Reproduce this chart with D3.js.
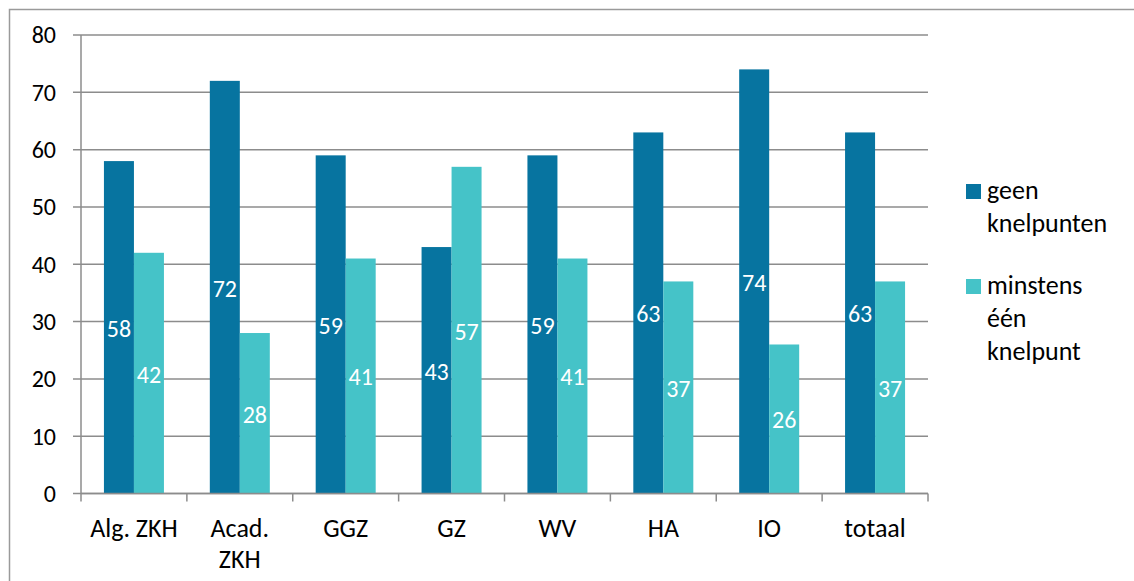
<!DOCTYPE html>
<html><head><meta charset="utf-8">
<script src="https://cdn.jsdelivr.net/npm/d3@7"></script>
<style>
body{margin:0;background:#fff;}
svg{display:block;font-family:Carlito,Lato,sans-serif;}
</style></head>
<body><svg id="c" width="1134" height="581"></svg>
<script>
const categories = [["Alg. ZKH"],["Acad.","ZKH"],["GGZ"],["GZ"],["WV"],["HA"],["IO"],["totaal"]];
const seriesNames = [["geen","knelpunten"],["minstens","één","knelpunt"]];
const geenKnelpunten = [58,72,59,43,59,63,74,63];
const minstensEen = [42,28,41,57,41,37,26,37];
const yTicks = [0,10,20,30,40,50,60,70,80];
const colors = ["#0774A0","#45C3C8"];

const svg = d3.select("#c");
const fsNum = 24, fsText = 26;
const L = 81, R = 928, T = 35, B = 493.5;

// outer border
svg.append("path").attr("d","M9.5,590V9.5H1140").attr("fill","none").attr("stroke","#9a9a9a").attr("stroke-width",1.5);

const x = d3.scaleBand().domain(d3.range(categories.length)).range([L,R]).paddingInner(0).paddingOuter(0);
const y = d3.scaleLinear().domain([0,80]).range([B,T]);

// gridlines
svg.append("g").selectAll("line").data(yTicks).join("line")
  .attr("x1",L-8).attr("x2",R).attr("y1",d=>y(d)).attr("y2",d=>y(d))
  .attr("stroke","#8c8c8c").attr("stroke-width",1.5);

// y labels
svg.append("g").selectAll("text").data(yTicks).join("text")
  .attr("x",56).attr("y",d=>y(d)).attr("dy","0.35em").attr("text-anchor","end")
  .attr("font-size",fsNum).attr("fill","#000").text(d=>d);

// bars
const bw = 30;
const series = [geenKnelpunten, minstensEen];
series.forEach((vals,si)=>{
  const g = svg.append("g");
  g.selectAll("rect").data(vals).join("rect")
    .attr("x",(d,i)=>x(i)+x.bandwidth()/2 - bw + si*bw)
    .attr("width",bw)
    .attr("y",d=>y(d)).attr("height",d=>y(0)-y(d))
    .attr("fill",colors[si]);
  g.selectAll("text").data(vals).join("text")
    .attr("x",(d,i)=>x(i)+x.bandwidth()/2 - bw/2 + si*bw)
    .attr("y",d=>(y(d)+y(0))/2+1).attr("dy","0.35em").attr("text-anchor","middle")
    .attr("font-size",fsNum).attr("fill","#fff").text(d=>d);
});

// axes lines
svg.append("line").attr("x1",L).attr("x2",L).attr("y1",T).attr("y2",B).attr("stroke","#8c8c8c").attr("stroke-width",1.5);
svg.append("line").attr("x1",L).attr("x2",R).attr("y1",B).attr("y2",B).attr("stroke","#8c8c8c").attr("stroke-width",1.5);
const xt = d3.range(categories.length+1).map(i=>L + i*x.bandwidth());
svg.append("g").selectAll("line").data(xt).join("line")
  .attr("x1",d=>d).attr("x2",d=>d).attr("y1",B).attr("y2",B+8)
  .attr("stroke","#8c8c8c").attr("stroke-width",1.5);

// x labels
categories.forEach((lines,i)=>{
  const t = svg.append("text").attr("text-anchor","middle").attr("font-size",fsText).attr("fill","#000");
  lines.forEach((ln,k)=>{
    t.append("tspan").attr("x",x(i)+x.bandwidth()/2).attr("y",537+k*31).text(ln);
  });
});

// legend
const legY = [199, 294];
seriesNames.forEach((lines,si)=>{
  svg.append("rect").attr("x",966).attr("y",legY[si]-15).attr("width",15).attr("height",15).attr("fill",colors[si]);
  const t = svg.append("text").attr("font-size",fsText).attr("fill","#000");
  lines.forEach((ln,k)=>{
    t.append("tspan").attr("x",987).attr("y",legY[si]+k*33).text(ln);
  });
});
</script></body></html>
